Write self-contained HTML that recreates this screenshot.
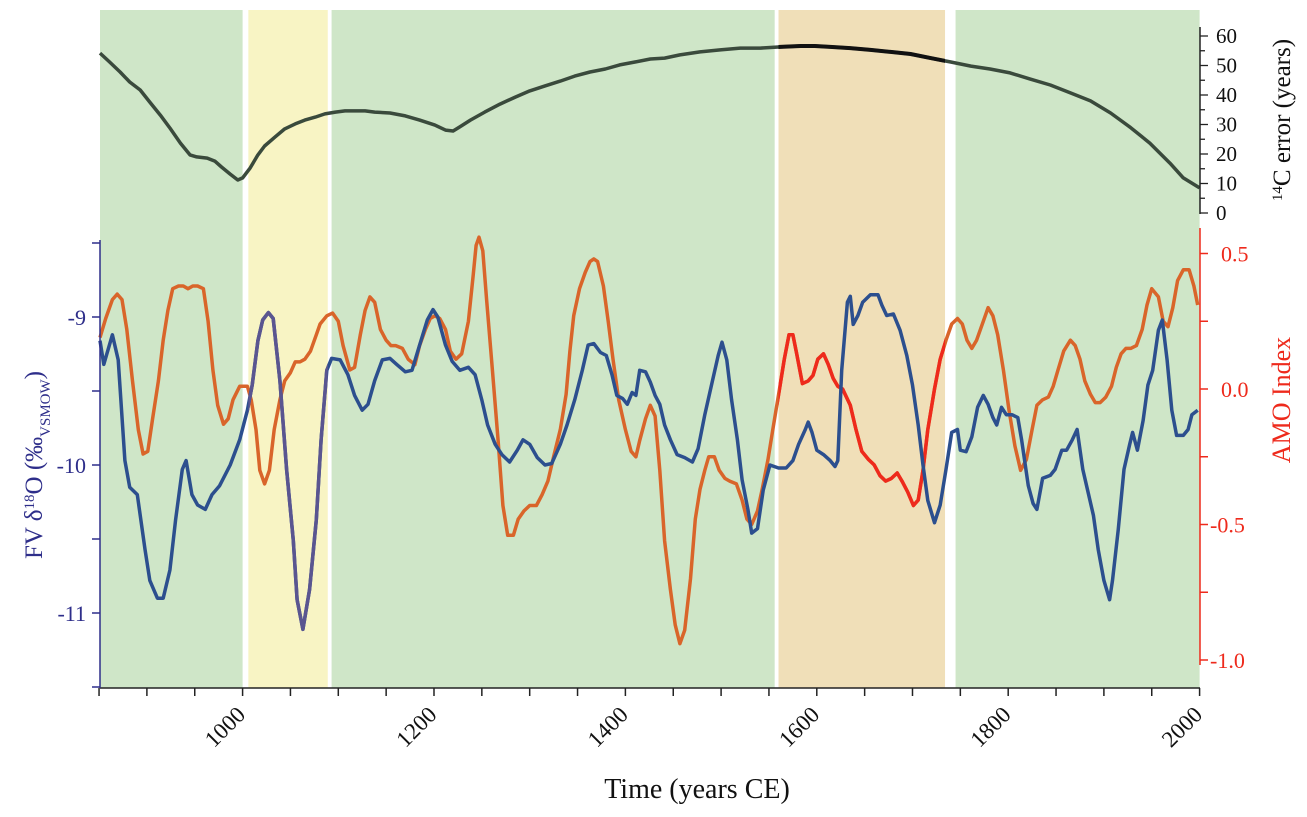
<!DOCTYPE html>
<html><head><meta charset="utf-8"><style>
html,body{margin:0;padding:0;background:#fff;}
svg{display:block;font-family:"Liberation Serif",serif;}
</style></head><body>
<svg id="c" width="1307" height="817" viewBox="0 0 1307 817"></svg>
<script>
// ---- data ----
const bandStart=[851,1006,1093,1560,1745];
const bandEnd=[1000,1089,1556,1734,2000];
const bandFill=['#cfe6c8','#f8f4c4','#cfe6c8','#f0dfb8','#cfe6c8'];

const c14Years=[851,861,872,882,893,903,914,924,935,945,952,963,971,978,987,995,1000,1008,1016,1023,1034,1044,1055,1065,1076,1086,1097,1107,1117,1128,1138,1154,1170,1185,1201,1212,1220,1227,1238,1253,1269,1285,1300,1316,1332,1347,1363,1379,1394,1410,1426,1441,1457,1478,1499,1520,1541,1562,1583,1598,1614,1635,1656,1677,1698,1719,1740,1761,1781,1802,1823,1844,1865,1886,1907,1927,1948,1969,1983,2000];
const c14Values=[54.2,51.2,47.8,44.4,41.7,37.6,33.2,28.8,23.7,19.7,19.0,18.6,17.6,15.6,13.2,11.2,11.9,15.3,19.7,22.7,25.8,28.5,30.2,31.5,32.5,33.6,34.2,34.6,34.6,34.6,34.2,33.9,32.9,31.5,29.8,28.1,27.8,29.2,31.5,34.2,36.9,39.3,41.4,43.1,44.7,46.4,47.8,48.8,50.2,51.2,52.2,52.5,53.6,54.6,55.3,55.9,55.9,56.3,56.6,56.6,56.3,55.9,55.3,54.6,53.9,52.5,51.2,49.8,48.8,47.5,45.4,43.4,40.7,38.0,33.9,29.2,23.7,16.9,11.9,8.5];

const d18Years=[851,855,864,870,877,882,890,898,903,911,917,924,930,937,941,947,953,961,968,976,987,997,1005,1010,1016,1021,1027,1032,1039,1046,1053,1057,1063,1070,1077,1082,1088,1093,1102,1110,1117,1125,1131,1138,1146,1154,1161,1170,1177,1185,1193,1199,1204,1212,1219,1227,1236,1243,1250,1256,1264,1271,1279,1287,1293,1300,1308,1316,1323,1332,1339,1347,1355,1361,1367,1374,1380,1386,1391,1397,1402,1407,1411,1415,1421,1426,1431,1436,1441,1447,1454,1462,1470,1476,1483,1491,1497,1501,1506,1511,1517,1522,1528,1532,1538,1544,1551,1560,1568,1575,1581,1588,1591,1595,1600,1607,1614,1619,1622,1626,1632,1635,1638,1643,1648,1656,1664,1668,1673,1680,1687,1694,1700,1706,1711,1716,1723,1729,1735,1741,1747,1750,1756,1762,1768,1774,1779,1784,1788,1793,1798,1804,1810,1814,1821,1826,1830,1836,1844,1849,1856,1861,1867,1872,1878,1883,1889,1894,1900,1906,1909,1915,1921,1927,1930,1935,1941,1946,1951,1957,1961,1966,1971,1976,1983,1988,1992,1998];
const d18Values=[-9.16,-9.32,-9.12,-9.29,-9.97,-10.15,-10.20,-10.57,-10.78,-10.90,-10.90,-10.71,-10.37,-10.03,-9.97,-10.20,-10.27,-10.30,-10.20,-10.14,-10.00,-9.83,-9.63,-9.46,-9.16,-9.02,-8.97,-9.01,-9.43,-10.03,-10.51,-10.91,-11.11,-10.84,-10.37,-9.83,-9.36,-9.28,-9.29,-9.39,-9.53,-9.63,-9.59,-9.43,-9.29,-9.28,-9.32,-9.37,-9.36,-9.19,-9.02,-8.95,-9.00,-9.19,-9.30,-9.36,-9.34,-9.39,-9.56,-9.73,-9.86,-9.93,-9.98,-9.90,-9.83,-9.86,-9.95,-10.00,-9.99,-9.86,-9.73,-9.56,-9.36,-9.19,-9.18,-9.24,-9.26,-9.39,-9.53,-9.55,-9.59,-9.51,-9.53,-9.36,-9.37,-9.44,-9.53,-9.59,-9.73,-9.83,-9.93,-9.95,-9.98,-9.89,-9.66,-9.43,-9.26,-9.17,-9.29,-9.56,-9.83,-10.10,-10.30,-10.46,-10.43,-10.17,-10.00,-10.02,-10.02,-9.97,-9.86,-9.76,-9.71,-9.78,-9.90,-9.93,-9.97,-10.01,-9.97,-9.36,-8.90,-8.86,-9.05,-8.99,-8.90,-8.85,-8.85,-8.92,-8.99,-8.98,-9.09,-9.26,-9.46,-9.73,-10.00,-10.24,-10.39,-10.27,-10.03,-9.78,-9.76,-9.90,-9.91,-9.81,-9.61,-9.53,-9.59,-9.68,-9.73,-9.61,-9.66,-9.66,-9.68,-9.83,-10.14,-10.26,-10.30,-10.09,-10.07,-10.03,-9.90,-9.90,-9.83,-9.76,-10.03,-10.17,-10.34,-10.57,-10.78,-10.91,-10.78,-10.44,-10.03,-9.86,-9.78,-9.90,-9.70,-9.46,-9.36,-9.09,-9.02,-9.29,-9.63,-9.80,-9.80,-9.76,-9.66,-9.63];

const amoYears=[851,857,864,869,874,879,885,891,896,901,906,912,917,922,927,933,938,943,948,953,959,964,969,974,980,985,990,997,1005,1009,1014,1018,1023,1028,1033,1039,1044,1050,1055,1060,1065,1071,1077,1081,1088,1094,1100,1105,1112,1117,1123,1128,1133,1138,1144,1150,1155,1160,1167,1173,1180,1185,1191,1196,1201,1206,1212,1217,1223,1229,1236,1241,1244,1247,1251,1255,1261,1267,1272,1277,1283,1288,1294,1300,1307,1313,1319,1325,1332,1338,1342,1346,1352,1358,1363,1367,1371,1377,1382,1387,1393,1400,1406,1411,1415,1421,1426,1431,1436,1441,1447,1452,1457,1462,1468,1473,1478,1483,1487,1493,1498,1504,1509,1516,1522,1527,1532,1538,1543,1549,1554,1561,1566,1571,1575,1579,1585,1591,1596,1601,1607,1612,1617,1622,1627,1635,1641,1647,1654,1660,1666,1672,1678,1684,1689,1695,1701,1706,1711,1716,1723,1729,1735,1741,1747,1752,1757,1762,1767,1774,1779,1784,1789,1795,1801,1807,1813,1819,1825,1830,1836,1842,1847,1852,1858,1865,1870,1875,1880,1886,1891,1896,1902,1908,1913,1918,1923,1928,1934,1940,1945,1950,1957,1962,1967,1972,1977,1983,1989,1994,1998];
const amoValues=[0.19,0.26,0.33,0.35,0.33,0.22,0.03,-0.15,-0.24,-0.23,-0.11,0.03,0.18,0.29,0.37,0.38,0.38,0.37,0.38,0.38,0.37,0.25,0.07,-0.06,-0.13,-0.11,-0.04,0.01,0.01,-0.04,-0.15,-0.30,-0.35,-0.30,-0.15,-0.04,0.03,0.06,0.10,0.10,0.11,0.14,0.20,0.24,0.27,0.28,0.25,0.16,0.07,0.08,0.20,0.29,0.34,0.32,0.22,0.18,0.16,0.16,0.15,0.11,0.09,0.16,0.22,0.26,0.27,0.26,0.22,0.14,0.11,0.13,0.25,0.42,0.53,0.56,0.51,0.33,0.07,-0.19,-0.43,-0.54,-0.54,-0.48,-0.45,-0.43,-0.43,-0.39,-0.34,-0.25,-0.15,-0.02,0.14,0.27,0.37,0.43,0.47,0.48,0.47,0.38,0.25,0.11,-0.04,-0.15,-0.23,-0.25,-0.19,-0.11,-0.06,-0.10,-0.30,-0.56,-0.74,-0.87,-0.94,-0.89,-0.70,-0.48,-0.37,-0.30,-0.25,-0.25,-0.30,-0.33,-0.34,-0.35,-0.41,-0.48,-0.50,-0.45,-0.37,-0.26,-0.15,0.00,0.11,0.20,0.20,0.13,0.02,0.03,0.05,0.11,0.13,0.09,0.04,0.01,0.00,-0.06,-0.15,-0.23,-0.26,-0.28,-0.32,-0.34,-0.33,-0.31,-0.34,-0.38,-0.43,-0.41,-0.30,-0.15,0.00,0.11,0.18,0.24,0.26,0.24,0.18,0.15,0.18,0.25,0.30,0.27,0.20,0.07,-0.08,-0.21,-0.30,-0.26,-0.15,-0.06,-0.04,-0.03,0.01,0.07,0.14,0.18,0.16,0.11,0.03,-0.02,-0.05,-0.05,-0.03,0.01,0.08,0.13,0.15,0.15,0.16,0.22,0.31,0.37,0.34,0.25,0.23,0.30,0.40,0.44,0.44,0.38,0.31];

const xTicks=[1000,1200,1400,1600,1800,2000];
const leftTicks=[-9,-10,-11];
const amoTicks=[0.5,0.0,-0.5,-1.0];
const c14Ticks=[0,10,20,30,40,50,60];

// ---- scales ----
const X=y=>100+(y-851)*0.957;
const YL=v=>317+(-9-v)*148;
const YR=v=>389-v*271;
const YC=v=>213-v*2.95;

const NS='http://www.w3.org/2000/svg';
const svg=document.getElementById('c');
function mk(tag,attrs,parent){const e=document.createElementNS(NS,tag);for(const k in attrs)e.setAttribute(k,attrs[k]);(parent||svg).appendChild(e);return e;}
function pts(xs,vs,f){return xs.map((y,i)=>X(y).toFixed(1)+','+f(vs[i]).toFixed(1)).join(' ');}

// bands
bandStart.forEach((s,i)=>{
  const r=mk('rect',{x:X(s),y:10,width:X(bandEnd[i])-X(s),height:678,fill:bandFill[i]});
  
  
});
const defs=mk('defs',{});
const cpY=mk('clipPath',{id:'cpY'},defs);
mk('rect',{x:X(bandStart[1]),y:0,width:X(bandEnd[1])-X(bandStart[1]),height:817},cpY);
const cpO=mk('clipPath',{id:'cpO'},defs);
mk('rect',{x:X(bandStart[3]),y:0,width:X(bandEnd[3])-X(bandStart[3]),height:817},cpO);

// 14C line
let l=mk('polyline',{points:pts(c14Years,c14Values,YC),fill:'none',stroke:'#3a4a3c',"stroke-width":3.5,"stroke-linejoin":'round'});


l=mk('polyline',{points:pts(c14Years,c14Values,YC),fill:'none',stroke:'#111',"stroke-width":4,"clip-path":'url(#cpO)'});



// AMO
l=mk('polyline',{points:pts(amoYears,amoValues,YR),fill:'none',stroke:'#d9652a',"stroke-width":3.5,"stroke-linejoin":'round'});


l=mk('polyline',{points:pts(amoYears,amoValues,YR),fill:'none',stroke:'#ee2a1c',"stroke-width":3.5,"stroke-linejoin":'round',"clip-path":'url(#cpO)'});


// d18O
l=mk('polyline',{points:pts(d18Years,d18Values,YL),fill:'none',stroke:'#2c4f8e',"stroke-width":3.5,"stroke-linejoin":'round'});


l=mk('polyline',{points:pts(d18Years,d18Values,YL),fill:'none',stroke:'#5a5590',"stroke-width":3.5,"stroke-linejoin":'round',"clip-path":'url(#cpY)'});



// bottom axis
let a=mk('line',{x1:100,y1:688,x2:1200,y2:688,stroke:'#222',"stroke-width":1.5});


for(let y=850;y<=2000;y+=50){
  if(X(y)<99)continue;
  const t=mk('line',{x1:X(y),y1:688,x2:X(y),y2:696,stroke:'#222',"stroke-width":1.5});
  
  
}
xTicks.forEach(y=>{
  const t=mk('text',{x:X(y)+4,y:716,"font-size":23,"text-anchor":'end',transform:`rotate(-45 ${X(y)+4} 716)`,fill:'#111'});
  t.textContent=y;
  
  
});
let tt=mk('text',{x:697,y:798,"font-size":28,"text-anchor":'middle',fill:'#111'});
tt.textContent='Time (years CE)';



// left axis
a=mk('line',{x1:100,y1:240,x2:100,y2:688,stroke:'#2e2e8a',"stroke-width":1.5});


for(let v=-8.5;v>=-11.5;v-=0.5){
  const t=mk('line',{x1:92,y1:YL(v),x2:100,y2:YL(v),stroke:'#2e2e8a',"stroke-width":1.5});
  
  
}
leftTicks.forEach(v=>{
  const t=mk('text',{x:86,y:YL(v)+8,"font-size":22,"text-anchor":'end',fill:'#2e2e8a'});
  t.textContent=v;
  
  
});
tt=mk('text',{x:0,y:0,"font-size":25,"text-anchor":'middle',fill:'#2e2e8a',transform:'translate(42 465) rotate(-90)'});
tt.innerHTML='FV δ<tspan baseline-shift="super" font-size="15">18</tspan>O (‰<tspan baseline-shift="sub" font-size="15">VSMOW</tspan>)';



// right AMO axis
a=mk('line',{x1:1200,y1:228,x2:1200,y2:665,stroke:'#ee2a1c',"stroke-width":1.5});


for(let v=0.5;v>=-1.0;v-=0.25){
  const t=mk('line',{x1:1200,y1:YR(v),x2:1208,y2:YR(v),stroke:'#ee2a1c',"stroke-width":1.5});
  
  
}
amoTicks.forEach(v=>{
  const t=mk('text',{x:v<0?1210:1221,y:YR(v)+8,"font-size":22,fill:'#ee2a1c'});
  t.textContent=v.toFixed(1);
  
  
});
tt=mk('text',{x:0,y:0,"font-size":26,"text-anchor":'middle',fill:'#ee2a1c',transform:'translate(1290 400) rotate(-90)'});
tt.textContent='AMO Index';



// 14C axis
a=mk('line',{x1:1200,y1:27,x2:1200,y2:214,stroke:'#222',"stroke-width":1.5});


for(let v=0;v<=60;v+=5){
  const t=mk('line',{x1:1200,y1:YC(v),x2:v%10?1205:1208,y2:YC(v),stroke:'#222',"stroke-width":1.3});
  
  
}
c14Ticks.forEach(v=>{
  const t=mk('text',{x:1216,y:YC(v)+7,"font-size":21,fill:'#111'});
  t.textContent=v;
  
  
});
tt=mk('text',{x:0,y:0,"font-size":25,"text-anchor":'middle',fill:'#111',transform:'translate(1290 120) rotate(-90)'});
tt.innerHTML='<tspan baseline-shift="super" font-size="15">14</tspan>C error (years)';


</script>
</body></html>
